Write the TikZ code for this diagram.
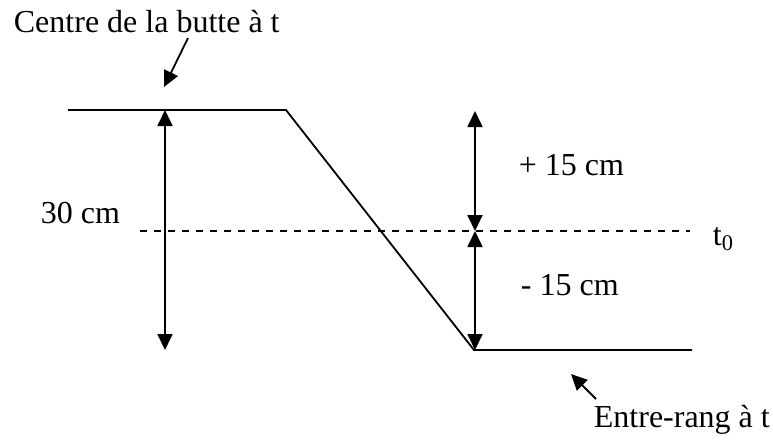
\documentclass[tikz,border=0pt]{standalone}
\usepackage{fontspec}
\setmainfont{Liberation Serif}
\usetikzlibrary{arrows.meta}

\begin{document}
\begin{tikzpicture}[x=0.5pt, y=-0.5pt, line width=0.9pt, >={Triangle[length=8pt,width=7.5pt]}, font=\fontsize{16}{19}\selectfont, lbl/.style={anchor=base west, inner sep=0pt}]
		\useasboundingbox (0,0) rectangle (773,446);
		% profil de la butte
		\coordinate (hautG) at (68,110);
		\coordinate (hautD) at (286,110);
		\coordinate (basG) at (474,350);
		\coordinate (basD) at (692,350);
		\draw (hautG) -- (hautD) -- (basG) -- (basD);
		% niveau t0
		\coordinate (niveauG) at (140,231);
		\coordinate (niveauD) at (690,231);
		\draw[line width=0.75pt, dash pattern=on 3.5pt off 3.5pt] (niveauG) -- (niveauD);
		% hauteurs
		\coordinate (totH) at (165,110);
		\coordinate (totB) at (165,350);
		\draw[<->] (totH) -- (totB);
		\coordinate (demiH) at (475,111);
		\coordinate (demiM) at (475,231);
		\coordinate (demiB) at (475,350);
		\draw[<->] (demiH) -- (demiM);
		\draw[<->] (demiM) -- (demiB);
		% textes
		\node[lbl] (centre) at (13,32) {Centre de la butte à t};
		\node[lbl] (total) at (40,223) {30 cm};
		\node[lbl] (plus) at (518,175) {+ 15 cm};
		\node[lbl] (moins) at (520,295) {- 15 cm};
		\node[lbl] (tzero) at (712,245) {t\textsubscript{0}};
		\node[lbl] (entre) at (593,427) {Entre-rang à t};
		\coordinate (centreA) at (188,38);
		\coordinate (centreB) at (164,87);
		\draw[->] (centreA) -- (centreB);
		\coordinate (entreA) at (596,399);
		\coordinate (entreB) at (571,374);
		\draw[->] (entreA) -- (entreB);
	\end{tikzpicture}
\end{document}
